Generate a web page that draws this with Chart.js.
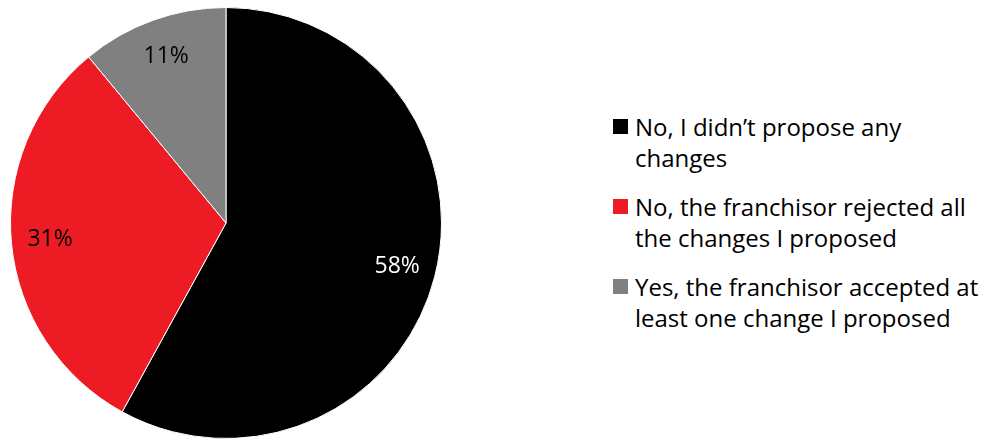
<!DOCTYPE html>
<html>
<head>
<meta charset="utf-8">
<script src="https://cdn.jsdelivr.net/npm/chart.js@4/dist/chart.umd.min.js"></script>
<style>
  body { margin: 0; background: #fff; font-family: "Open Sans", sans-serif; }
  #wrap { position: relative; width: 984px; height: 442px; }
  #pieBox { position: absolute; left: 0; top: 0; width: 452px; height: 442px; }
  #legend { position: absolute; left: 613px; top: 111px; width: 371px; }
  .item { position: relative; padding-left: 22px; font-size: 24px; line-height: 31px; color: #000; margin-bottom: 18px; white-space: nowrap; }
  .sw { position: absolute; left: 0; top: 8px; width: 15px; height: 15px; }
</style>
</head>
<body>
<div id="wrap">
  <div id="pieBox"><canvas id="pie"></canvas></div>
  <div id="legend"></div>
</div>
<script>
const categories = [
  ["No, I didn\u2019t propose any", "changes"],
  ["No, the franchisor rejected all", "the changes I proposed"],
  ["Yes, the franchisor accepted at", "least one change I proposed"]
];
const values = [58, 31, 11];
const colors = ['#000000', '#ED1C24', '#808080'];
const labelColors = ['#ffffff', '#000000', '#000000'];

// percent labels placed inside each slice
const sliceLabels = {
  id: 'sliceLabels',
  afterDatasetsDraw(chart) {
    const ctx = chart.ctx;
    const meta = chart.getDatasetMeta(0);
    ctx.save();
    ctx.font = '23px "Open Sans"';
    ctx.textAlign = 'center';
    ctx.textBaseline = 'middle';
    meta.data.forEach(function (arc, i) {
      const p = arc.getProps(['x', 'y', 'startAngle', 'endAngle', 'outerRadius'], true);
      const mid = (p.startAngle + p.endAngle) / 2;
      const r = p.outerRadius * 0.82;
      ctx.fillStyle = labelColors[i];
      ctx.fillText(values[i] + '%', p.x + Math.cos(mid) * r, p.y + Math.sin(mid) * r);
    });
    ctx.restore();
  }
};

const chart = new Chart(document.getElementById('pie'), {
  type: 'pie',
  data: {
    labels: categories.map(c => c.join(' ')),
    datasets: [{
      data: values,
      backgroundColor: colors,
      borderColor: '#ffffff',
      borderWidth: 1
    }]
  },
  options: {
    responsive: true,
    maintainAspectRatio: false,
    animation: false,
    layout: { padding: { top: 7, bottom: 3, left: 10, right: 10 } },
    plugins: {
      legend: { display: false },
      tooltip: { enabled: false }
    }
  },
  plugins: [sliceLabels]
});

// legend built from the chart data
const legend = document.getElementById('legend');
chart.data.labels.forEach(function (l, i) {
  const item = document.createElement('div');
  item.className = 'item';
  item.innerHTML = '<span class="sw" style="background:' + colors[i] + '"></span>' +
    categories[i].join('<br>');
  legend.appendChild(item);
});
</script>
</body>
</html>
